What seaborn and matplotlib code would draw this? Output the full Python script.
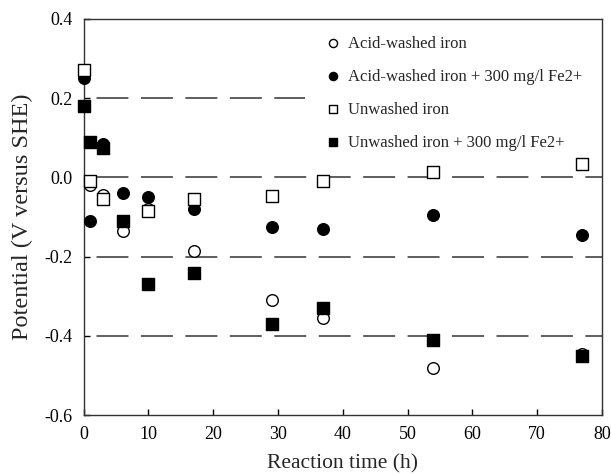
import pandas as pd
import matplotlib
matplotlib.use('Agg')
import matplotlib.pyplot as plt
import seaborn as sns

# Data
time_h = [0, 1, 3, 6, 10, 17, 29, 37, 54, 77]
acid_washed = [0.26, -0.02, -0.045, -0.135, -0.08, -0.185, -0.31, -0.355, -0.48, -0.445]
acid_washed_fe = [0.25, -0.11, 0.085, -0.04, -0.05, -0.08, -0.125, -0.13, -0.095, -0.145]
time_unwashed = [0, 1, 3, 10, 17, 29, 37, 54, 77]
unwashed = [0.27, -0.01, -0.055, -0.085, -0.055, -0.048, -0.01, 0.015, 0.035]
unwashed_fe = [0.18, 0.09, 0.075, -0.11, -0.27, -0.24, -0.37, -0.33, -0.41, -0.45]
grid_levels = [0.2, 0.0, -0.2, -0.4]

series = [
    ('Acid-washed iron', time_h, acid_washed, 'o', 'white'),
    ('Acid-washed iron + 300 mg/l Fe2+', time_h, acid_washed_fe, 'o', 'black'),
    ('Unwashed iron', time_unwashed, unwashed, 's', 'white'),
    ('Unwashed iron + 300 mg/l Fe2+', time_h, unwashed_fe, 's', 'black'),
]

sns.set_theme(style="ticks")
plt.rcParams['font.family'] = ['Liberation Serif', 'DejaVu Serif']
plt.rcParams['axes.unicode_minus'] = False
plt.rcParams['lines.scale_dashes'] = False

fig = plt.figure(figsize=(6.11, 4.74), dpi=100)
ax = fig.add_axes([0.137, 0.124, 0.848, 0.836])

# dashed reference lines; the top one stops where the legend sits
for y in grid_levels:
    xmax = 0.427 if y == 0.2 else 1.0
    ax.axhline(y, xmax=xmax, color='#333333', linewidth=1.1,
               linestyle=(23, (23, 9)), zorder=1)

for name, t, v, m, fc in series:
    df = pd.DataFrame({'t': t, 'v': v})
    sns.scatterplot(data=df, x='t', y='v', marker=m, s=70 if m == 'o' else 75,
                    facecolor=fc, edgecolor='black', linewidth=1.0,
                    label=name, clip_on=False, zorder=3, ax=ax)

ax.set_xlim(0, 80)
ax.set_ylim(-0.6, 0.4)
ax.set_xticks(range(0, 81, 10))
ax.set_yticks([-0.6, -0.4, -0.2, 0.0, 0.2, 0.4])
ax.set_yticklabels(['-0.6', '-0.4', '-0.2', '0.0', '0.2', '0.4'])
ax.tick_params(direction='in', length=4, width=1, labelsize=13, colors='black')
ax.tick_params(axis='y', pad=8)
ax.tick_params(axis='x', pad=8)
for sp in ax.spines.values():
    sp.set_linewidth(1.0)
    sp.set_color('#333333')

ax.set_xlabel('Reaction time (h)', fontsize=15.5, labelpad=8)
ax.set_ylabel('Potential (V versus SHE)', fontsize=17.5, labelpad=8)

leg = ax.legend(loc='upper left', bbox_to_anchor=(0.437, 0.996), frameon=False,
                fontsize=12, markerscale=0.7, handletextpad=0.4,
                labelspacing=1.02, handlelength=1.0, borderpad=0.4)

fig.savefig('out.png', dpi=100)
